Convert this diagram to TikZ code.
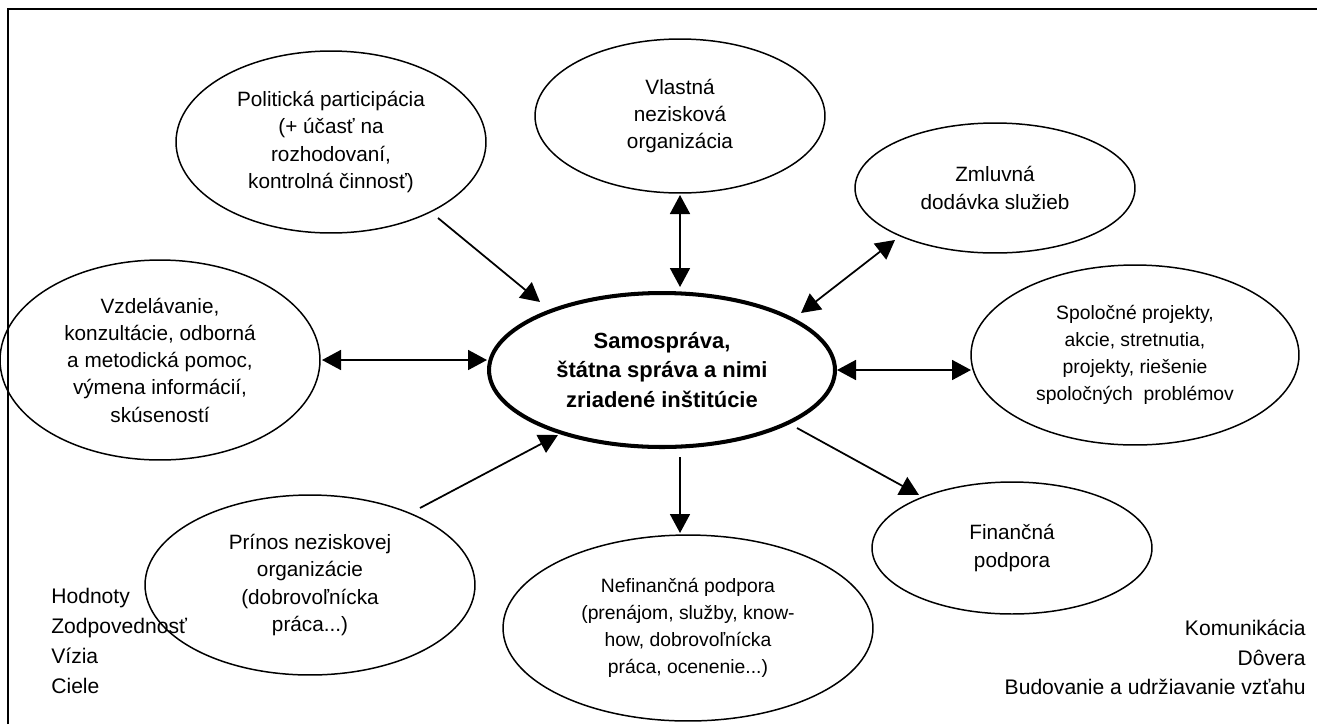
\documentclass[tikz,border=0pt]{standalone}
\usepackage{fontspec}
\setmainfont{Liberation Sans}
\usetikzlibrary{arrows.meta,shapes.geometric}
\begin{document}
\begin{tikzpicture}[x=0.02cm,y=-0.02cm,
  >={Triangle[length=0.38cm,width=0.4cm]},
  ell/.style={ellipse,draw,line width=0.85pt,inner sep=0pt,align=center,font=\fontsize{11.8}{15.5}\selectfont},
  ellsmall/.style={ell,font=\fontsize{11}{15.5}\selectfont},
  central/.style={ell,line width=2.3pt,font=\fontsize{12.5}{17}\selectfont\bfseries},
  arr/.style={line width=1pt,->},
  darr/.style={line width=1pt,<->},
  notel/.style={inner sep=0pt,anchor=base west,font=\fontsize{12}{17}\selectfont},
  noter/.style={inner sep=0pt,anchor=base east,font=\fontsize{12}{17}\selectfont}]
\useasboundingbox (0,0) rectangle (1317,724);
% frame
\draw[line width=1.1pt] (8,724) -- (8,9) -- (1317,9);
% nodes
\node[central,minimum width=6.92cm,minimum height=3.08cm] (C) at (662,370)
  {Samospráva,\\ štátna správa a nimi\\ zriadené inštitúcie};
\node[ell,minimum width=5.8cm,minimum height=3.08cm] (V) at (680,116)
  {Vlastná\\ nezisková\\ organizácia};
\node[ell,minimum width=6.2cm,minimum height=3.64cm] (P) at (331,142)
  {Politická participácia\\ (+ účasť na\\ rozhodovaní,\\ kontrolná činnosť)};
\node[ell,minimum width=5.6cm,minimum height=2.6cm] (Z) at (995,188)
  {Zmluvná\\ dodávka služieb};
\node[ellsmall,minimum width=6.56cm,minimum height=3.6cm] (S) at (1135,355)
  {Spoločné projekty,\\ akcie, stretnutia,\\ projekty, riešenie\\ spoločných\ \ problémov};
\node[ell,minimum width=5.6cm,minimum height=2.64cm] (F) at (1012,548)
  {Finančná\\ podpora};
\node[ellsmall,minimum width=7.4cm,minimum height=3.72cm] (N) at (688,628)
  {Nefinančná podpora\\ (prenájom, služby, know-\\ how, dobrovoľnícka\\ práca, ocenenie...)};
\node[ell,minimum width=6.6cm,minimum height=3.6cm] (Pr) at (310,585)
  {Prínos neziskovej\\ organizácie\\ (dobrovoľnícka\\ práca...)};
\node[ell,minimum width=6.4cm,minimum height=4cm] (Vz) at (160,360)
  {Vzdelávanie,\\ konzultácie, odborná\\ a metodická pomoc,\\ výmena informácií,\\ skúseností};
% connector ends
\coordinate (p1) at (438,218);  \coordinate (p2) at (540,302);
\coordinate (v1) at (680,195);  \coordinate (v2) at (680,287);
\coordinate (z1) at (895,240);  \coordinate (z2) at (801,313);
\coordinate (e1) at (322,360);  \coordinate (e2) at (487,360);
\coordinate (s1) at (837,370);  \coordinate (s2) at (971,370);
\coordinate (r1) at (420,508);  \coordinate (r2) at (558,435);
\coordinate (n1) at (680,457);  \coordinate (n2) at (680,533);
\coordinate (f1) at (797,428);  \coordinate (f2) at (919,495);
% connectors
\draw[arr] (p1) -- (p2);
\draw[darr] (v1) -- (v2);
\draw[darr] (z1) -- (z2);
\draw[darr] (e1) -- (e2);
\draw[darr] (s1) -- (s2);
\draw[arr] (r1) -- (r2);
\draw[arr] (n1) -- (n2);
\draw[arr] (f1) -- (f2);
% notes
\node[notel] (h1) at (51,603) {Hodnoty};
\node[notel] (h2) at (51,633) {Zodpovednosť};
\node[notel] (h3) at (51,663) {Vízia};
\node[notel] (h4) at (51,693) {Ciele};
\node[noter] (k1) at (1306,635) {Komunikácia};
\node[noter] (k2) at (1306,665) {Dôvera};
\node[noter] (k3) at (1306,694) {Budovanie a udržiavanie vzťahu};
\end{tikzpicture}
\end{document}
